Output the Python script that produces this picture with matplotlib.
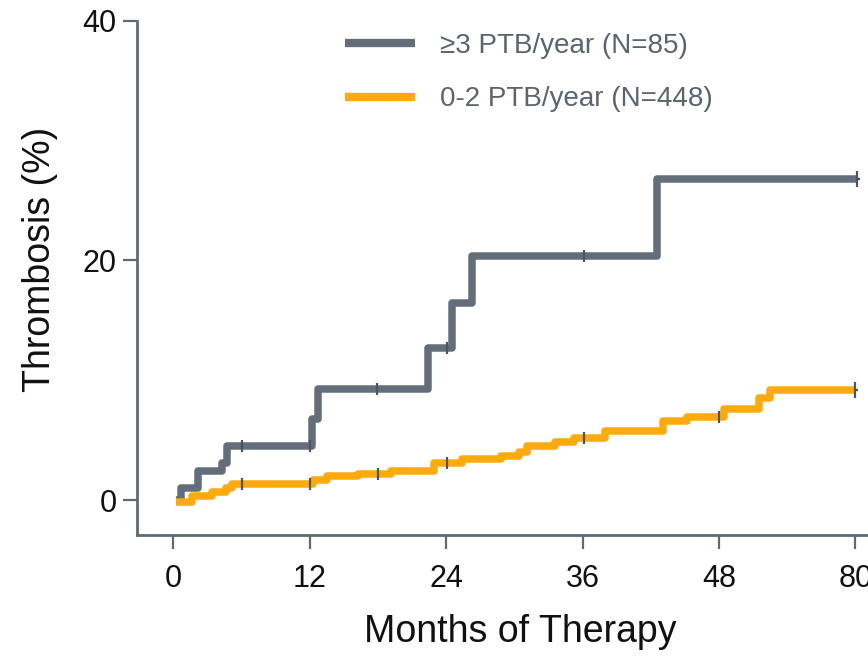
import numpy as np
import matplotlib
matplotlib.use("Agg")
import matplotlib.pyplot as plt
from matplotlib.path import Path

plt.rcParams['font.family'] = ['Liberation Sans', 'DejaVu Sans']

# step curves (months, cumulative thrombosis %)
high_t = [0.2, 0.7, 2.2, 4.3, 4.7, 12.2, 12.75, 22.4, 24.5, 26.3, 42.5, 60.1]
high_v = [0.0, 1.0, 2.4, 3.1, 4.5, 6.8, 9.3, 12.7, 16.4, 20.4, 26.8, 26.8]
high_cens = [6.0, 12.0, 17.9, 24.1, 36.1]

low_t = [0.2, 1.6, 3.4, 4.6, 5.2, 12.3, 13.5, 16.2, 19.1, 22.9, 25.4, 28.8,
         30.4, 31.1, 33.6, 35.2, 38.0, 43.1, 45.2, 48.4, 51.5, 52.5, 60.0]
low_v = [-0.2, 0.3, 0.7, 1.0, 1.3, 1.7, 2.0, 2.2, 2.45, 3.05, 3.4, 3.7,
         4.0, 4.5, 4.8, 5.15, 5.8, 6.6, 6.9, 7.6, 8.5, 9.2, 9.2]
low_cens = [6.0, 12.0, 18.0, 24.1, 36.1, 48.0]

labels = ['\u22653 PTB/year (N=85)', '0-2 PTB/year (N=448)']
colors = ['#646e7b', '#fcaa0c']
xticks = [0, 12, 24, 36, 48, 60]
xticklabels = ['0', '12', '24', '36', '48', '80']
yticks = [0, 20, 40]

axis_col = '#5f6a75'
mark_col = '#4b5560'

# end-of-follow-up marker: vertical tick with a short stub to the right
end_marker = Path([(0, -1), (0, 1), (0, 0), (0.45, 0)],
                  [Path.MOVETO, Path.LINETO, Path.MOVETO, Path.LINETO])


def step_at(t, v, x):
    idx = np.searchsorted(t, x, side='right') - 1
    return np.array(v)[idx]


fig = plt.figure(figsize=(8.68, 6.57), dpi=100)
ax = fig.add_axes([0.1582, 0.1857, 0.8418, 0.7828])

series = [(high_t, high_v, high_cens), (low_t, low_v, low_cens)]
for (t, v, cens), col, lab in zip(series, colors, labels):
    ax.plot(t, v, drawstyle='steps-post', color=col, lw=5.4,
            solid_joinstyle='round', solid_capstyle='butt', label=lab)
    ax.plot(cens, step_at(t, v, cens), ls='none', marker='|', ms=8,
            mew=1.6, color=mark_col)
    ax.plot([t[-1]], [v[-1]], ls='none', marker=end_marker, ms=11,
            mew=1.6, color=mark_col)

ax.set_xlim(-3.17, 61.1)
ax.set_ylim(-2.92, 40)
ax.set_xticks(xticks)
ax.set_xticklabels(xticklabels)
ax.set_yticks(yticks)

for s in ['top', 'right']:
    ax.spines[s].set_visible(False)
for s in ['left', 'bottom']:
    ax.spines[s].set_color(axis_col)
    ax.spines[s].set_linewidth(2)

ax.tick_params(axis='both', direction='out', length=10, width=1.6,
               color=axis_col, labelsize=22, labelcolor='#111111')
ax.tick_params(axis='x', pad=11)
ax.tick_params(axis='y', pad=5)

ax.set_xlabel('Months of Therapy', fontsize=27, color='#111111')
ax.set_ylabel('Thrombosis (%)', fontsize=27, color='#111111')
ax.xaxis.set_label_coords(0.5236, -0.154)
ax.yaxis.set_label_coords(-0.1085, 0.535)

leg = ax.legend(loc='upper left', bbox_to_anchor=(0.284, 0.977), frameon=False,
                fontsize=20, handlelength=2.52, handletextpad=0.9,
                labelspacing=1.0, borderpad=0, borderaxespad=0)
for line in leg.get_lines():
    line.set_linewidth(6)
for txt in leg.get_texts():
    txt.set_color('#5b6470')

fig.savefig('out.png', dpi=100)
